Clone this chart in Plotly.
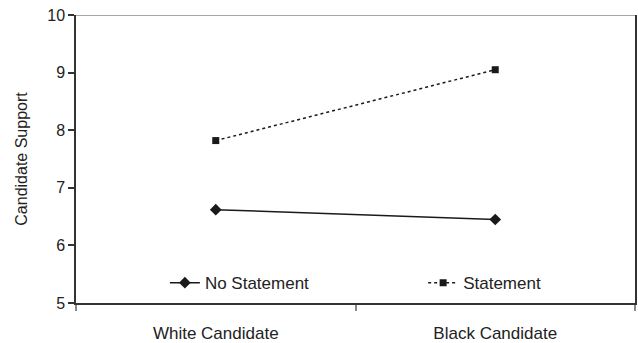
import plotly.graph_objects as go

categories = ["White Candidate", "Black Candidate"]
no_statement = [6.62, 6.45]
statement = [7.82, 9.05]
y_ticks = [5, 6, 7, 8, 9, 10]

FONT = "Liberation Sans, Arial, sans-serif"
INK = "#1a1a1a"

fig = go.Figure()
fig.add_trace(go.Scatter(
    x=categories, y=no_statement, name="No Statement", mode="lines+markers",
    line=dict(color=INK, width=1.5),
    marker=dict(symbol="diamond", size=9, color=INK),
    legend="legend",
))
fig.add_trace(go.Scatter(
    x=categories, y=statement, name="Statement", mode="lines+markers",
    line=dict(color=INK, width=1.5, dash="dot"),
    marker=dict(symbol="square", size=7, color=INK),
    legend="legend2",
))

fig.add_shape(type="line", xref="paper", yref="y", x0=0, x1=1, y0=10, y1=10,
              line=dict(color="#888888", width=1.5))

legend_common = dict(orientation="h", yanchor="middle", xanchor="left",
                     bgcolor="rgba(0,0,0,0)", font=dict(size=17, color="#222222"),
                     itemwidth=30)

fig.update_layout(
    width=638, height=343,
    margin=dict(l=76, r=3, t=15, b=40, autoexpand=False),
    paper_bgcolor="white", plot_bgcolor="white",
    font=dict(family=FONT, size=16, color="#222222"),
    showlegend=True,
    legend=dict(x=0.159, y=0.069, **legend_common),
    legend2=dict(x=0.621, y=0.069, **legend_common),
    xaxis=dict(
        type="category", range=[-0.5, 1.5], tickson="boundaries",
        showline=True, linecolor="#333333", linewidth=1.5, mirror=False,
        ticks="outside", ticklen=6, tickcolor="#888888", tickwidth=1.5,
        showgrid=False, zeroline=False, ticklabelstandoff=14,
        tickfont=dict(size=17), automargin=False,
    ),
    yaxis=dict(
        range=[5, 10], tickvals=y_ticks, ticktext=[str(v) for v in y_ticks],
        showline=True, linecolor="#333333", linewidth=1.5, mirror=True,
        ticks="outside", ticklen=6, tickcolor="#333333", tickwidth=1.5,
        showgrid=False, zeroline=False, tickfont=dict(size=16), automargin=False,
        title=dict(text="Candidate Support", font=dict(size=16), standoff=16),
    ),
)

fig.write_html("out.html", config={"displayModeBar": False},
               post_script="document.body.style.margin='0';")
